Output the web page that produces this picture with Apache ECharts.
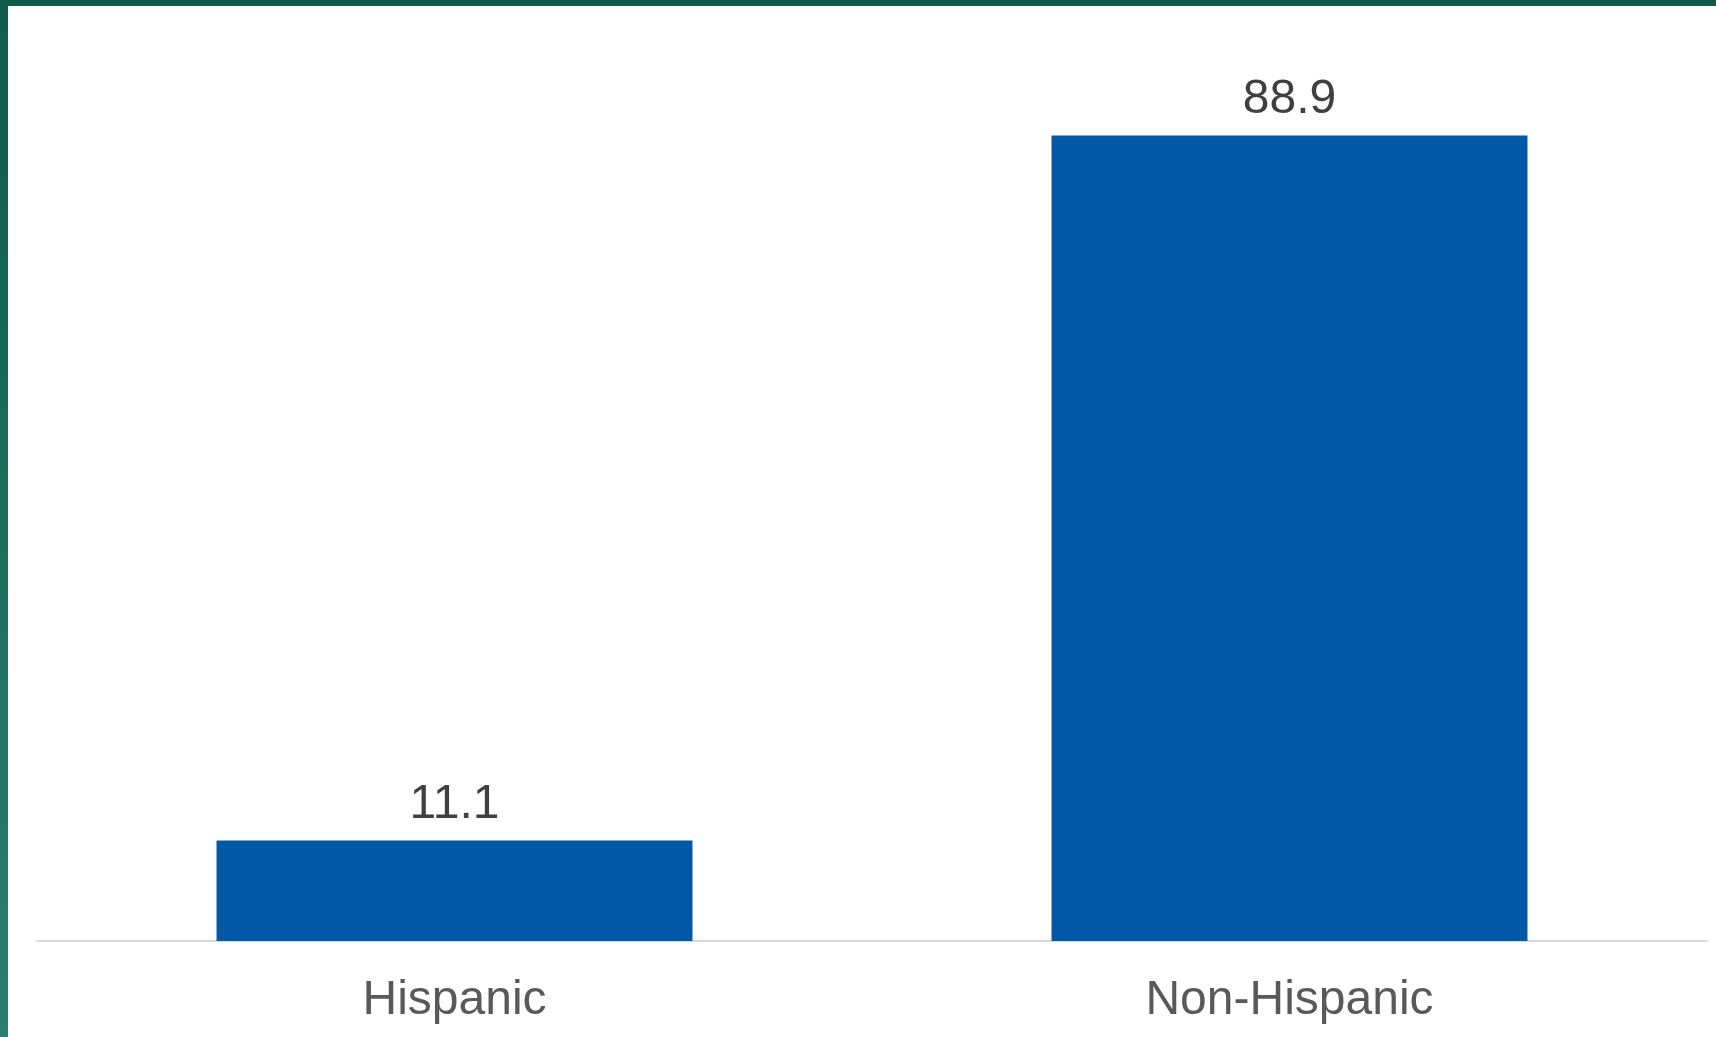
<!DOCTYPE html>
<html>
<head>
<meta charset="utf-8">
<script src="https://cdn.jsdelivr.net/npm/echarts@6/dist/echarts.min.js"></script>
<style>
html,body{margin:0;padding:0;background:#fff;}
#c{width:1716px;height:1037px;}
</style>
</head>
<body>
<div id="c"></div>
<script>
const categories = ['Hispanic', 'Non-Hispanic'];
const values = [11.1, 88.9];

const chart = echarts.init(document.getElementById('c'), null, {renderer: 'canvas'});
chart.setOption({
  animation: false,
  backgroundColor: '#ffffff',
  textStyle: {fontFamily: 'Liberation Sans, Arial, sans-serif'},
  grid: {left: 37, right: 9, top: 35, bottom: 96, containLabel: false},
  graphic: [
    {type: 'rect', left: 0, top: 0, z: 100, shape: {width: 1716, height: 6}, style: {fill: '#0f5a4b'}},
    {type: 'rect', left: 0, top: 0, z: 100, shape: {width: 8, height: 1037},
      style: {fill: new echarts.graphic.LinearGradient(0, 0, 0, 1, [
        {offset: 0, color: '#0f5a4b'}, {offset: 1, color: '#2a7f6e'}])}}
  ],
  xAxis: {
    type: 'category',
    data: categories,
    axisLine: {show: true, lineStyle: {color: '#d9d9d9', width: 2}},
    axisTick: {show: false},
    axisLabel: {color: '#595959', fontSize: 48, margin: 36, fontFamily: 'Liberation Sans, Arial, sans-serif'}
  },
  yAxis: {
    type: 'value', min: 0, max: 100, show: false,
    splitLine: {show: false}
  },
  series: [{
    type: 'bar',
    data: values,
    barCategoryGap: '43%',
    itemStyle: {color: '#0058a6'},
    label: {
      show: true, position: 'top', distance: 12,
      color: '#404040', fontSize: 48,
      fontFamily: 'Liberation Sans, Arial, sans-serif',
      formatter: p => p.value.toFixed(1)
    }
  }]
});
</script>
</body>
</html>
